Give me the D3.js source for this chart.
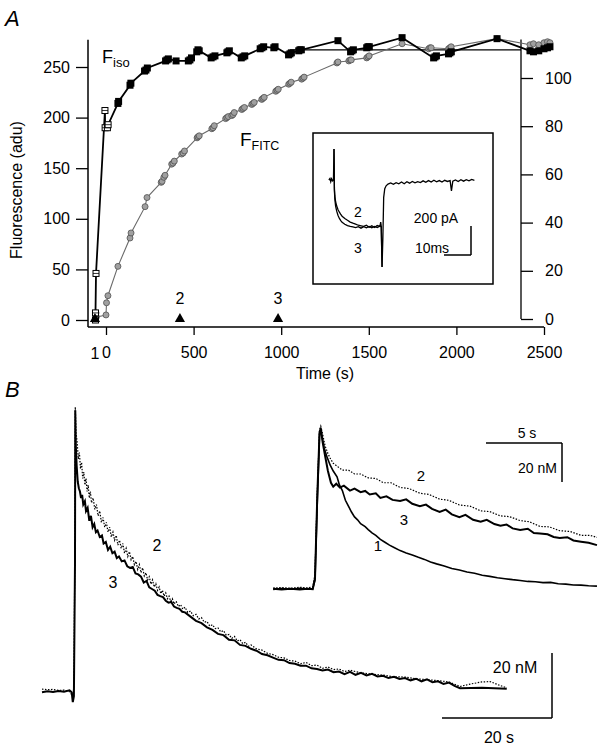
<!DOCTYPE html>
<html><head><meta charset="utf-8">
<script src="https://cdn.jsdelivr.net/npm/d3@7"></script>
<style>body{margin:0;background:#fff}svg text{font-family:"Liberation Sans",Arial,sans-serif;fill:#000}</style>
</head><body><svg id="c" width="605" height="749"></svg>
<script>
// ---------- Panel A data ----------
const leftTicks = [0,50,100,150,200,250];
const rightTicks = [0,20,40,60,80,100];
const timeTicks = [0,500,1000,1500,2000,2500];
const fisoOpen = [[-60,0],[-60,7],[-57,46],[-6,207],[-5,190],[8,190],[12,193]];
const fisoFilled = [[68,214],[72,216],[137,232],[142,234],[220,246],[228,247],[236,249],[340,256],[348,257],[356,258],[400,256],[470,256],[479,257],[488,259],[518,265],[525,267],[532,266],[600,259],[611,260],[622,261],[690,264],[696,265],[704,266],[772,259],[782,260],[792,261],[880,268],[890,269],[900,270],[958,269],[965,270],[1042,262],[1050,263],[1058,264],[1100,266],[1107,267],[1115,267],[1324,276],[1396,265],[1404,266],[1412,267],[1488,269],[1495,270],[1503,270],[1690,279],[1870,259],[1878,260],[1886,261],[1955,263],[1963,264],[1971,265],[2232,278],[2420,266],[2440,265],[2470,266],[2500,268],[2520,269],[2534,270]];
const ffitc = [[-57,7],[-55,3],[0,5],[3,17],[11,24],[68,53],[137,81],[143,86],[223,112],[234,121],[315,136],[320,137],[330,141],[337,143],[375,154],[382,155],[390,157],[432,164],[440,165],[448,167],[520,180],[525,181],[532,182],[604,189],[611,190],[618,192],[683,199],[690,200],[698,201],[718,202],[725,203],[732,205],[775,208],[782,209],[790,210],[832,213],[839,214],[846,215],[889,218],[896,219],[903,220],[969,226],[976,227],[983,228],[1043,233],[1050,234],[1057,235],[1117,238],[1124,239],[1131,240],[1318,254],[1324,255],[1386,256],[1393,257],[1400,257],[1488,259],[1495,260],[1502,261],[1690,273],[1842,268],[1849,269],[1856,269],[1955,268],[1963,269],[1970,270],[2232,278],[2420,272],[2440,273],[2470,272],[2500,274],[2520,275],[2534,274]];
const stimTimes = [-63,422,982];
const stimLabels = ["1","2","3"];
const refLevel = 267, refStart = 1050;

// ---------- Inset A (current, ms / pA) ----------
const iTrace2 = [[-1.9,0],[-1.5,10],[-1.2,-12],[-0.9,8],[-0.5,-6],[-0.2,0],[0,214],[0.15,-60],[0.3,-110],[0.6,-150],[1,-180],[1.5,-205],[2,-222],[2.5,-238],[3,-250],[4,-265],[5,-278],[6,-290],[7,-298],[8,-305],[9,-312],[10,-316],[11,-320],[12,-312],[13,-326],[14,-316],[15,-328],[16,-314],[17,-320],[17.3,-290],[17.5,-320],[17.8,-600],[18.1,-400],[18.4,-120],[18.8,-60],[19.3,-40],[20,-28],[21,-20],[22,-30],[23,-18],[24,-26],[25,-14],[26,-26],[27,-12],[28,-22],[29,-10],[30,-20],[31,-12],[32,-18],[33,-6],[34,-16],[35,-4],[36,-14],[37,-2],[38,-12],[39,-4],[40,-14],[41,-2],[42,-10],[43,-4],[43.5,-75],[44,-8],[45,0],[46,-10],[47,2],[48,-8],[49,2],[50,-6],[51,4],[52,-2]];
const iTrace3 = [[0,214],[0.15,-70],[0.3,-130],[0.6,-180],[1,-215],[1.5,-245],[2,-265],[2.5,-280],[3,-292],[4,-305],[5,-314],[6,-320],[7,-324],[8,-328],[9,-322],[10,-332],[11,-322],[12,-330],[13,-320],[14,-330],[15,-320],[16,-328],[17,-318],[17.5,-322],[17.8,-600]];

// ---------- Panel B main (s / nM) ----------
const b3 = [[-6,0.2],[-5,0.5],[-4,0.3],[-3,0.6],[-2,0.4],[-1,0.8],[-0.6,0.2],[-0.4,-2.8],[-0.2,-1],[0,40],[0.05,87],[0.15,76],[0.3,70],[0.5,65],[0.7,63],[0.9,62],[1.1,60],[1.3,61],[1.5,58],[1.8,59],[2.0,56],[2.3,57],[2.6,53],[2.9,54.5],[3.2,51],[3.5,52],[3.8,49.5],[4.1,50],[4.5,48],[4.9,48.5],[5.2,46],[5.6,46.5],[6,44],[6.4,45],[6.8,43],[7.2,43.5],[7.6,41.5],[8,42],[8.5,40.5],[9,40.8],[9.5,39],[10,38.5],[10.5,38.8],[11,36.8],[11.5,36.5],[12,35.8],[12.5,34],[13,34.5],[13.5,32.5],[14,32],[14.5,31.5],[15,30.2],[15.5,29.8],[16,29.5],[16.5,28.4],[17,27.8],[17.5,28],[18,26.6],[18.5,26.2],[19,25.9],[19.5,25],[20,24.8],[21,23.5],[22,22.2],[23,21.5],[24,20.2],[25,19.4],[26,18.2],[27,17.8],[28,16.4],[29,16.2],[30,14.8],[31,14.5],[32,13.6],[33,13],[34,12],[35,11.6],[36,10.9],[37,10.2],[38,10.1],[39,9.2],[40,9],[41,8.4],[42,8.4],[43,7.6],[44,7.4],[45,6.9],[46,7.2],[47,6.4],[48,6.6],[49,5.8],[50,6.5],[51,5.6],[52,6.2],[53,5.4],[54,5.9],[55,5.1],[56,5.3],[57,4.6],[58,5],[59,4.3],[60,4.6],[61,3.9],[62,4.4],[63,3.6],[64,4.2],[65,3.3],[66,3.6],[67,2.8],[68,3.2],[69,2.2],[70,1.5],[74,1.6],[78.5,1.3]];
const b2 = [[-6,1.2],[-5,1],[-4,1.1],[-3,0.8],[-2,0.9],[-1,0.4],[-0.4,-1],[-0.2,2],[0,50],[0.05,88],[0.2,80],[0.4,77],[0.6,72],[0.8,74],[1,69],[1.2,71],[1.4,66],[1.6,68],[1.8,64],[2,66],[2.2,62],[2.4,64],[2.6,60],[2.8,62],[3,58.5],[3.3,60],[3.6,56.5],[3.9,58],[4.2,54.5],[4.5,56],[4.8,52.5],[5.1,54],[5.4,51],[5.7,52.5],[6,49.5],[6.3,51],[6.6,48],[6.9,49.5],[7.2,47],[7.5,48.5],[7.8,45.5],[8.1,47],[8.4,44.5],[8.7,46],[9,43],[9.3,44.5],[9.6,42],[9.9,43.5],[10.2,41],[10.5,42],[10.8,39.5],[11.1,40.5],[11.4,38],[11.7,39.5],[12,37],[12.3,38.5],[12.6,36],[12.9,37],[13.2,34.8],[13.5,35.8],[13.8,33.5],[14.1,34.8],[14.4,32.6],[14.7,33.6],[15,31.6],[15.3,32.6],[15.6,30.6],[15.9,31.6],[16.2,29.8],[16.5,30.8],[16.8,29],[17.1,29.8],[17.4,28.2],[17.7,29],[18,27.4],[18.4,28.2],[18.8,26.6],[19.2,27.2],[19.6,25.8],[20,26.4],[20.5,24.8],[21,25.2],[21.5,23.8],[22,24.2],[22.5,22.8],[23,23.2],[23.5,21.8],[24,22],[24.5,20.6],[25,21],[25.5,19.8],[26,20],[26.5,18.8],[27,19.2],[27.5,17.8],[28,18],[28.5,16.8],[29,17.4],[29.5,16],[30,16.4],[30.5,15.2],[31,15.6],[31.5,14.4],[32,14.8],[33,13.6],[34,13.2],[35,12.2],[36,11.8],[37,11],[38,10.8],[39,10],[40,9.8],[41,9],[42,9.4],[43,8.4],[44,8.6],[45,7.6],[46,8],[47,7.2],[48,7.4],[49,6.6],[50,7],[52,6.2],[54,5.8],[56,5.5],[58,5],[60,4.9],[62,4.4],[64,4.1],[66,3.8],[68,3.4],[70,2],[72,2.8],[74,3.4],[75.5,3.5],[77,2.5],[78.5,1.6]];

// ---------- Panel B inset (s / nM) ----------
const n1 = [[-2.75,0.3],[-2.2,0.8],[-1.6,0.4],[-1,0.9],[-0.5,0.5],[-0.15,0.7],[0,5],[0.15,45],[0.3,80],[0.36,82],[0.45,79],[0.6,73],[0.8,68],[1,64],[1.2,61],[1.45,58],[1.6,54],[1.8,51],[2,46],[2.2,43],[2.4,40],[2.6,37.5],[2.8,36],[3,34],[3.3,32.5],[3.5,31],[3.75,29.3],[4,28],[4.3,26],[4.6,24.5],[4.9,23],[5.2,21.8],[5.6,20.2],[6,19],[6.4,18],[6.8,16.8],[7.2,15.7],[7.6,14.4],[8,13.4],[8.5,12.3],[9,11],[9.5,10.3],[10,9.2],[10.5,8.6],[11,7.6],[11.5,7],[12,6.3],[12.5,5.8],[13,5.3],[13.5,4.9],[14,4.4],[14.5,4.2],[15,3.8],[15.5,3.9],[16,3.2],[16.5,3],[17,2.6],[17.5,2.5],[18,2.2],[18.55,2]];
const n3 = [[-2.75,0.6],[-2.2,0.2],[-1.6,0.6],[-1,0.3],[-0.5,0.7],[-0.15,0.4],[0,6],[0.15,48],[0.3,81],[0.38,83],[0.5,76],[0.66,69],[0.85,61],[1.05,55],[1.2,53],[1.4,54.5],[1.64,52.5],[1.9,53.5],[2.3,51],[2.6,52],[3,50.2],[3.3,50.8],[3.6,49],[4,49.6],[4.3,47.2],[4.7,48],[5.1,46.2],[5.6,45.6],[6,46.5],[6.4,44.2],[6.9,43],[7.3,43.8],[7.7,41.6],[8.2,40],[8.6,41.2],[9,38.8],[9.5,37.4],[9.9,38.5],[10.4,36],[10.9,35],[11.3,36],[11.8,33.8],[12.2,33],[12.6,33.6],[13,31.6],[13.5,30.8],[14,31.4],[14.4,29.2],[14.8,29],[15.3,28.6],[15.7,27.2],[16.1,26.7],[16.6,27.1],[17,25.4],[17.5,24.8],[18,24.2],[18.55,23]];
const n2 = [[-2.75,1],[-2.2,1.3],[-1.6,0.9],[-1,1.4],[-0.5,1.1],[-0.15,1.5],[0,8],[0.15,50],[0.3,82],[0.38,84],[0.5,80],[0.66,74],[0.85,70],[0.99,67.7],[1.2,65],[1.45,63.5],[1.8,61.5],[2.2,61.5],[2.6,59.5],[3,59.5],[3.5,57.5],[4,57.2],[4.5,55],[5,55],[5.6,52.6],[6.2,52],[6.9,49.6],[7.5,49],[8.2,46.6],[8.8,46],[9.5,43.6],[10.2,43],[10.9,40.6],[11.5,40.2],[12.2,38],[12.8,37.6],[13.5,35.6],[14.1,35],[14.8,32.6],[15.4,32.4],[16.1,30.4],[16.8,30],[17.5,28],[18.1,28],[18.55,27]];

// ---------- drawing ----------
const svg = d3.select("#c");
const FONT = '"Liberation Sans", Arial, sans-serif';
function txt(x,y,s,size,opts={}){
  const t = svg.append("text").attr("x",x).attr("y",y).attr("font-size",size).text(s);
  if(opts.anchor) t.attr("text-anchor",opts.anchor);
  if(opts.italic) t.attr("font-style","italic");
  if(opts.rot) t.attr("transform",`rotate(${opts.rot},${x},${y})`);
  return t;
}
function ln(x1,y1,x2,y2,w=1.3,c="#000"){
  svg.append("line").attr("x1",x1).attr("y1",y1).attr("x2",x2).attr("y2",y2).attr("stroke",c).attr("stroke-width",w);
}

// Panel A scales
const xA = d3.scaleLinear().domain([0,2500]).range([106,544]);
const yL = d3.scaleLinear().domain([0,250]).range([320,67]);
const yR = d3.scaleLinear().domain([0,100]).range([319,78]);
const fmt = d3.format("d");

const gL = svg.append("g").attr("transform","translate(88,0)")
  .call(d3.axisLeft(yL).tickValues(leftTicks).tickFormat(fmt).tickSize(12).tickPadding(6));
const gB = svg.append("g").attr("transform","translate(0,327)")
  .call(d3.axisBottom(xA).tickValues(timeTicks).tickFormat(fmt).tickSize(8).tickPadding(12));
const gR = svg.append("g").attr("transform","translate(521,0)")
  .call(d3.axisRight(yR).tickValues(rightTicks).tickFormat(fmt).tickSize(12).tickPadding(12));
[gL,gB,gR].forEach(g=>{
  g.attr("font-size",16).attr("font-family",FONT);
  g.select(".domain").remove();
  g.selectAll("line").attr("stroke-width",1.3);
});
ln(88,yL(277),88,yL(-7),1.5);
ln(xA(-103),327,xA(2500),327,1.5);
ln(521,yR(0),521,yR(116),1.3);
ln(xA(refStart),yL(refLevel),521,yL(refLevel),1.2);

// FFITC
const lineA = d3.line().x(d=>xA(d[0])).y(d=>yL(d[1]));
svg.append("path").attr("d",lineA(ffitc)).attr("fill","none").attr("stroke","#6a6a6a").attr("stroke-width",1.1);
svg.selectAll(".fc").data(ffitc).enter().append("circle")
  .attr("cx",d=>xA(d[0])).attr("cy",d=>yL(d[1])).attr("r",3)
  .attr("fill","#a0a0a0").attr("stroke","#505050").attr("stroke-width",0.8);

// Fiso
svg.append("path").attr("d",lineA(fisoOpen.concat(fisoFilled))).attr("fill","none").attr("stroke","#000").attr("stroke-width",1.8);
svg.selectAll(".fs").data(fisoFilled).enter().append("rect")
  .attr("x",d=>xA(d[0])-3.5).attr("y",d=>yL(d[1])-3.5).attr("width",7).attr("height",7).attr("fill","#000");
const go = svg.selectAll(".fo").data(fisoOpen).enter().append("g")
  .attr("transform",d=>`translate(${xA(d[0])},${yL(d[1])})`);
go.append("rect").attr("x",-3).attr("y",-3).attr("width",6).attr("height",6).attr("fill","#fff").attr("stroke","#000").attr("stroke-width",1);
go.append("line").attr("x1",-3).attr("x2",3).attr("y1",0).attr("y2",0).attr("stroke","#000").attr("stroke-width",0.8);

// stimulus triangles
const tri = d3.symbol().type(d3.symbolTriangle).size(45);
svg.selectAll(".tr").data(stimTimes).enter().append("path").attr("d",tri)
  .attr("transform",d=>`translate(${xA(d)},${yL(0)-1})`).attr("fill","#000");
txt(xA(stimTimes[0]),359,stimLabels[0],16,{anchor:"middle"});
txt(xA(stimTimes[1]),304,stimLabels[1],16,{anchor:"middle"});
txt(xA(stimTimes[2]),304,stimLabels[2],16,{anchor:"middle"});

// labels A
txt(5,26,"A",22,{italic:true});
txt(22,190,"Fluorescence (adu)",16,{anchor:"middle",rot:-90});
txt(325,379,"Time (s)",16,{anchor:"middle"});
const fi = svg.append("text").attr("x",102).attr("y",63).attr("font-size",18);
fi.append("tspan").text("F");
fi.append("tspan").attr("font-size",13).attr("dy",4).text("iso");
const ff = svg.append("text").attr("x",240).attr("y",146).attr("font-size",19);
ff.append("tspan").text("F");
ff.append("tspan").attr("font-size",12.5).attr("dy",4).text("FITC");

// Inset A
svg.append("rect").attr("x",313).attr("y",133).attr("width",180).attr("height",151).attr("fill","none").attr("stroke","#000").attr("stroke-width",1.5);
const xI = d3.scaleLinear().domain([0,10]).range([334,361]);
const yI = d3.scaleLinear().domain([0,-200]).range([180,209]);
const lineI = d3.line().x(d=>xI(d[0])).y(d=>yI(d[1]));
svg.append("path").attr("d",lineI(iTrace2)).attr("fill","none").attr("stroke","#000").attr("stroke-width",1.3);
svg.append("path").attr("d",lineI(iTrace3)).attr("fill","none").attr("stroke","#000").attr("stroke-width",1.3);
txt(358,217,"2",14,{anchor:"middle"});
txt(358,253,"3",14,{anchor:"middle"});
txt(436,223,"200 pA",14,{anchor:"middle"});
txt(432,253,"10ms",14,{anchor:"middle"});
const sbx = 471, sby = 255;
ln(sbx, sby, sbx, sby-(yI(-200)-yI(0)), 1.5);
ln(sbx-(xI(10)-xI(0)), sby, sbx, sby, 1.5);

// Panel B
txt(5,397,"B",22,{italic:true});
const xB = d3.scaleLinear().domain([0,20]).range([75,185]);
const yB = d3.scaleLinear().domain([0,20]).range([693,628]);
const lineB = d3.line().x(d=>xB(d[0])).y(d=>yB(d[1]));
svg.append("path").attr("d",lineB(b2)).attr("fill","none").attr("stroke","#000").attr("stroke-width",1.2).attr("stroke-dasharray","1.5,1.5");
svg.append("path").attr("d",lineB(b3)).attr("fill","none").attr("stroke","#000").attr("stroke-width",2);
txt(157,551,"2",16,{anchor:"middle"});
txt(113,588,"3",16,{anchor:"middle"});
const bx = 552, by = 718;
ln(bx, by, bx, by-(yB(0)-yB(20)), 1.5);
ln(bx-(xB(20)-xB(0)), by, bx, by, 1.5);
txt(515,673,"20 nM",16,{anchor:"middle"});
txt(499,743,"20 s",16,{anchor:"middle"});

// Inset B
const xN = d3.scaleLinear().domain([0,5]).range([315,391]);
const yN = d3.scaleLinear().domain([0,20]).range([590,551]);
const lineN = d3.line().x(d=>xN(d[0])).y(d=>yN(d[1]));
svg.append("path").attr("d",lineN(n2)).attr("fill","none").attr("stroke","#000").attr("stroke-width",1.2).attr("stroke-dasharray","1.5,1.5");
svg.append("path").attr("d",lineN(n1)).attr("fill","none").attr("stroke","#000").attr("stroke-width",1.6);
svg.append("path").attr("d",lineN(n3)).attr("fill","none").attr("stroke","#000").attr("stroke-width",2);
txt(421,481,"2",15,{anchor:"middle"});
txt(404,525,"3",15,{anchor:"middle"});
txt(378,551,"1",15,{anchor:"middle"});
const nx = 562, ny = 443;
ln(nx-(xN(5)-xN(0)), ny, nx, ny, 1.5);
ln(nx, ny, nx, ny+(yN(0)-yN(20)), 1.5);
txt(527,438,"5 s",14,{anchor:"middle"});
txt(557,473,"20 nM",14,{anchor:"end"});
</script></body></html>
